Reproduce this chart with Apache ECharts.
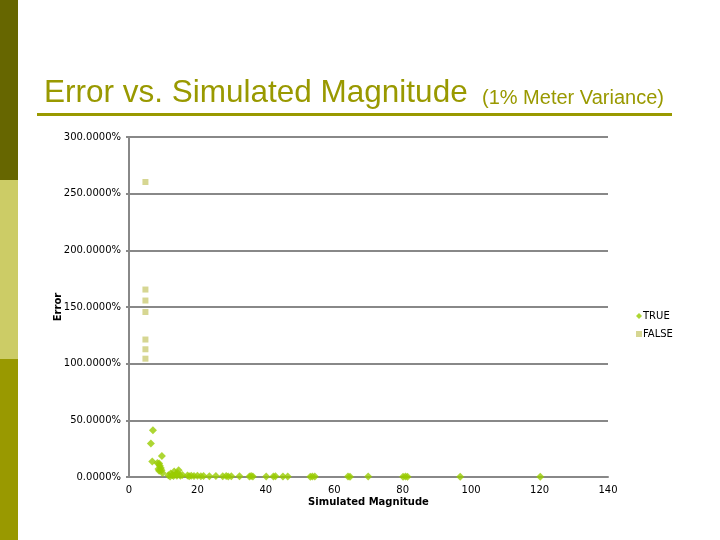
<!DOCTYPE html>
<html>
<head>
<meta charset="utf-8">
<script src="https://cdn.jsdelivr.net/npm/echarts@6/dist/echarts.min.js"></script>
<style>
html,body{margin:0;padding:0;background:#fff;}
#c{width:720px;height:540px;}
</style>
</head>
<body>
<div id="c"></div>
<script>
// Data (Error in %, Simulated Magnitude)
const trueX = [6.4,7.0,6.8,9.6,8.3,8.8,9.3,8.8,9.8,9.0,8.6,9.5,
  11.5,12.2,12.7,13.2,13.7,14.2,14.5,13.0,15.0,15.6,12.0,14.0,
  17.1,17.6,18.2,19.0,20.0,21.0,21.8,23.5,25.4,27.4,28.4,29.0,29.9,32.3,35.2,35.7,36.2,
  40.1,42.2,42.8,45.0,46.4,53.0,53.6,54.3,64.0,64.6,69.9,80.1,80.8,81.4,96.8,120.2];
const trueY = [29.5,41.3,13.7,18.6,12.4,12.0,8.0,5.5,3.5,10.0,7.0,6.0,
  1.5,3.0,1.8,4.8,2.5,3.5,6.0,0.8,1.2,1.8,0.5,1.0,
  1.4,0.6,1.0,0.8,1.2,0.6,0.9,0.7,0.8,0.6,0.8,0.5,0.7,0.6,0.5,0.9,0.4,
  0.5,0.4,0.7,0.4,0.5,0.3,0.5,0.4,0.4,0.3,0.4,0.3,0.4,0.3,0.3,0.3];
const falseX = [4.8,4.8,4.8,4.8,4.8,4.8,4.8];
const falseY = [260.3,165.4,155.7,145.6,121.3,112.7,104.4];
const seriesNames = ['TRUE','FALSE'];
const xTicks = {min:0, max:140, interval:20};
const yTicks = {min:0, max:300, interval:50};

const zip = (a,b) => a.map((v,i)=>[v,b[i]]);

const chart = echarts.init(document.getElementById('c'));
const axisFont = {fontFamily:'DejaVu Sans', fontSize:10, color:'#000'};
chart.setOption({
  backgroundColor:'#fff',
  animation:false,
  title:[
    {text:'Error vs. Simulated Magnitude', left:39, top:72,
     textStyle:{fontFamily:'Liberation Sans', fontSize:31.5, fontWeight:'normal', color:'#999900'}},
    {text:'(1% Meter Variance)', left:477, top:83,
     textStyle:{fontFamily:'Liberation Sans', fontSize:20, fontWeight:'normal', color:'#999900'}}
  ],
  graphic:[
    {type:'rect', shape:{x:0,y:0,width:18,height:180}, style:{fill:'#666600'}},
    {type:'rect', shape:{x:0,y:180,width:18,height:179}, style:{fill:'#cccc66'}},
    {type:'rect', shape:{x:0,y:359,width:18,height:181}, style:{fill:'#999900'}},
    {type:'rect', shape:{x:37,y:113,width:635,height:3}, style:{fill:'#999900'}}
  ],
  legend:{
    orient:'vertical', left:631, top:306, itemWidth:6, itemHeight:6, itemGap:8,
    textStyle:{fontFamily:'DejaVu Sans', fontSize:10, color:'#000', padding:[0,0,0,-4]},
    data:[{name:'TRUE', icon:'diamond'},{name:'FALSE', icon:'rect'}]
  },
  grid:{left:129, right:112, top:137, bottom:63, containLabel:false},
  xAxis:{
    type:'value', min:xTicks.min, max:xTicks.max, interval:xTicks.interval,
    name:'Simulated Magnitude', nameLocation:'middle', nameGap:20, nameMoveOverlap:false,
    nameTextStyle:{fontFamily:'DejaVu Sans', fontSize:10, fontWeight:'bold', color:'#000'},
    axisLine:{show:true, lineStyle:{color:'#888', width:2}},
    axisTick:{show:false},
    splitLine:{show:false},
    axisLabel:Object.assign({margin:8}, axisFont)
  },
  yAxis:{
    type:'value', min:yTicks.min, max:yTicks.max, interval:yTicks.interval,
    name:'Error', nameLocation:'middle', nameGap:66, nameMoveOverlap:false,
    nameTextStyle:{fontFamily:'DejaVu Sans', fontSize:10, fontWeight:'bold', color:'#000'},
    axisLine:{show:true, lineStyle:{color:'#888', width:2}},
    axisTick:{show:true, length:3, lineStyle:{color:'#888', width:2}},
    splitLine:{show:true, lineStyle:{color:'#888', width:2}},
    axisLabel:Object.assign({margin:8, formatter:v=>v.toFixed(4)+'%'}, axisFont)
  },
  series:[
    {name:seriesNames[0], type:'scatter', symbol:'diamond', symbolSize:8,
     itemStyle:{color:'#99cc00'}, data:zip(trueX,trueY)},
    {name:seriesNames[1], type:'scatter', symbol:'rect', symbolSize:6,
     itemStyle:{color:'#cccc77'}, data:zip(falseX,falseY)}
  ]
});
</script>
</body>
</html>
